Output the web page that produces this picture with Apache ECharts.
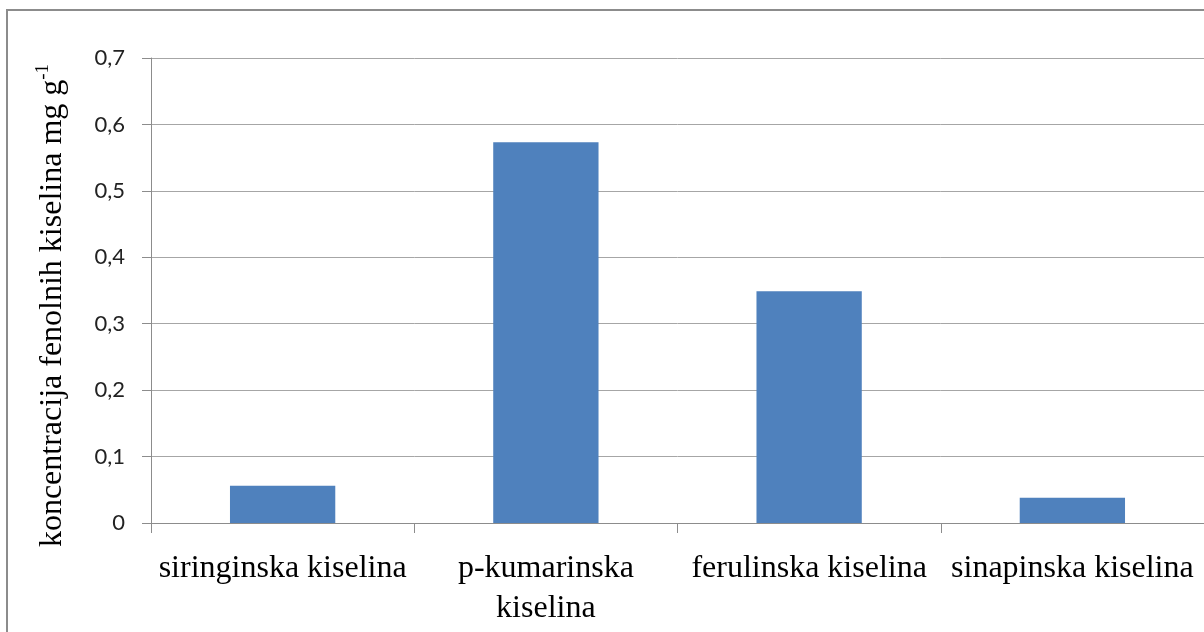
<!DOCTYPE html>
<html>
<head>
<meta charset="utf-8">
<script src="https://cdn.jsdelivr.net/npm/echarts@6/dist/echarts.min.js"></script>
<style>
html,body{margin:0;padding:0;background:#fff;}
#c{width:1204px;height:632px;}
</style>
</head>
<body>
<div id="c"></div>
<script>
var categories = ['siringinska kiselina', 'p-kumarinska\nkiselina', 'ferulinska kiselina', 'sinapinska kiselina'];
var values = [0.056, 0.573, 0.349, 0.038];
var yTicks = { min: 0, max: 0.7, interval: 0.1 };
var yTitle = 'koncentracija fenolnih kiselina mg g';
var yTitleSup = '-1';

var chart = echarts.init(document.getElementById('c'), null, { renderer: 'canvas' });
chart.setOption({
  animation: false,
  backgroundColor: '#fff',
  graphic: [{
    type: 'rect',
    shape: { x: 7, y: 10, width: 1300, height: 700 },
    style: { fill: 'none', stroke: '#8c8c8c', lineWidth: 2 },
    silent: true
  }],
  grid: { left: 151, top: 58, width: 1058, bottom: 109, containLabel: false },
  xAxis: {
    type: 'category',
    data: categories,
    axisLine: { lineStyle: { color: '#8c8c8c', width: 1 } },
    axisTick: { show: true, alignWithLabel: false, length: 10, lineStyle: { color: '#8c8c8c' } },
    axisLabel: {
      interval: 0,
      margin: 26,
      color: '#000',
      fontFamily: 'Liberation Serif',
      fontSize: 32,
      lineHeight: 40
    }
  },
  yAxis: {
    type: 'value',
    min: yTicks.min,
    max: yTicks.max,
    interval: yTicks.interval,
    name: '{a|' + yTitle + '}{s|' + yTitleSup + '}',
    nameLocation: 'middle',
    nameRotate: 90,
    nameGap: 80,
    nameTextStyle: {
      rich: {
        a: { fontFamily: 'Liberation Serif', fontSize: 32, color: '#000', lineHeight: 37 },
        s: { fontFamily: 'Liberation Serif', fontSize: 19, color: '#000', verticalAlign: 'top', lineHeight: 37, padding: [0, 30, 14, 0] }
      }
    },
    axisLine: { show: true, lineStyle: { color: '#8c8c8c', width: 1 } },
    axisTick: { show: true, length: 9, lineStyle: { color: '#8c8c8c' } },
    axisLabel: {
      margin: 26,
      color: '#222',
      fontFamily: 'Lato',
      fontSize: 22,
      formatter: function (v) { return v === 0 ? '0' : v.toFixed(1).replace('.', ','); }
    },
    splitLine: { show: true, lineStyle: { color: '#a6a6a6', width: 1 } }
  },
  series: [{
    type: 'bar',
    data: values,
    barWidth: '40%',
    itemStyle: { color: '#4F81BD' }
  }]
});
</script>
</body>
</html>
